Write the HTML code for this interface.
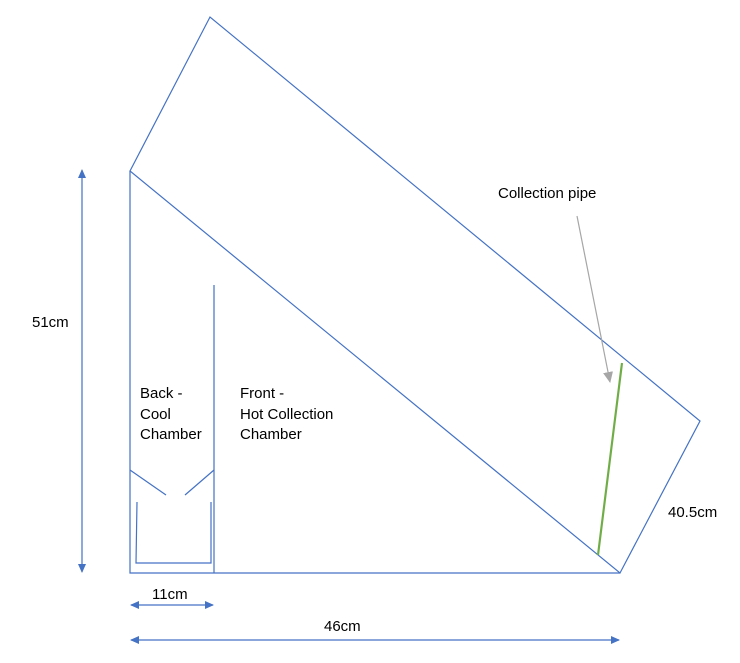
<!DOCTYPE html>
<html><head><meta charset="utf-8"><style>
html,body{margin:0;padding:0;background:#fff}
svg text{font-family:"Liberation Sans",sans-serif;font-size:15px;fill:#000}
</style></head><body>
<svg width="740" height="658" viewBox="0 0 740 658">
<defs>
<marker id="ab" markerWidth="10" markerHeight="10" refX="8" refY="5" orient="auto-start-reverse" markerUnits="userSpaceOnUse"><path d="M0,1 L9,5 L0,9 z" fill="#4472c4"/></marker>
<marker id="ag" markerWidth="12" markerHeight="12" refX="10" refY="6" orient="auto" markerUnits="userSpaceOnUse"><path d="M0,1 L11,6 L0,11 z" fill="#a6a6a6"/></marker>
</defs>
<g stroke="#4472c4" stroke-width="1.2" fill="none">
<polygon points="130,171 210,17 700,421 620,573"/>
<polyline points="130,171 130,573 620,573"/>
<line x1="214" y1="285" x2="214" y2="573"/>
<line x1="130" y1="470" x2="166" y2="495"/>
<line x1="214" y1="470" x2="185" y2="495"/>
<polyline points="137,502 136,563 211,563 211,502"/>
<line x1="82" y1="170" x2="82" y2="572" marker-start="url(#ab)" marker-end="url(#ab)"/>
<line x1="131" y1="605" x2="213" y2="605" marker-start="url(#ab)" marker-end="url(#ab)"/>
<line x1="131" y1="640" x2="619" y2="640" marker-start="url(#ab)" marker-end="url(#ab)"/>
</g>
<line x1="622" y1="363" x2="598" y2="555" stroke="#70ad47" stroke-width="2.2"/>
<line x1="577" y1="216" x2="610" y2="382" stroke="#a6a6a6" stroke-width="1.2" marker-end="url(#ag)"/>
<text x="32" y="327">51cm</text>
<text x="140" y="398">Back -</text>
<text x="140" y="419">Cool</text>
<text x="140" y="439">Chamber</text>
<text x="240" y="398">Front -</text>
<text x="240" y="419">Hot Collection</text>
<text x="240" y="439">Chamber</text>
<text x="498" y="198">Collection pipe</text>
<text x="668" y="517">40.5cm</text>
<text x="152" y="599">11cm</text>
<text x="324" y="631">46cm</text>
</svg>
</body></html>
